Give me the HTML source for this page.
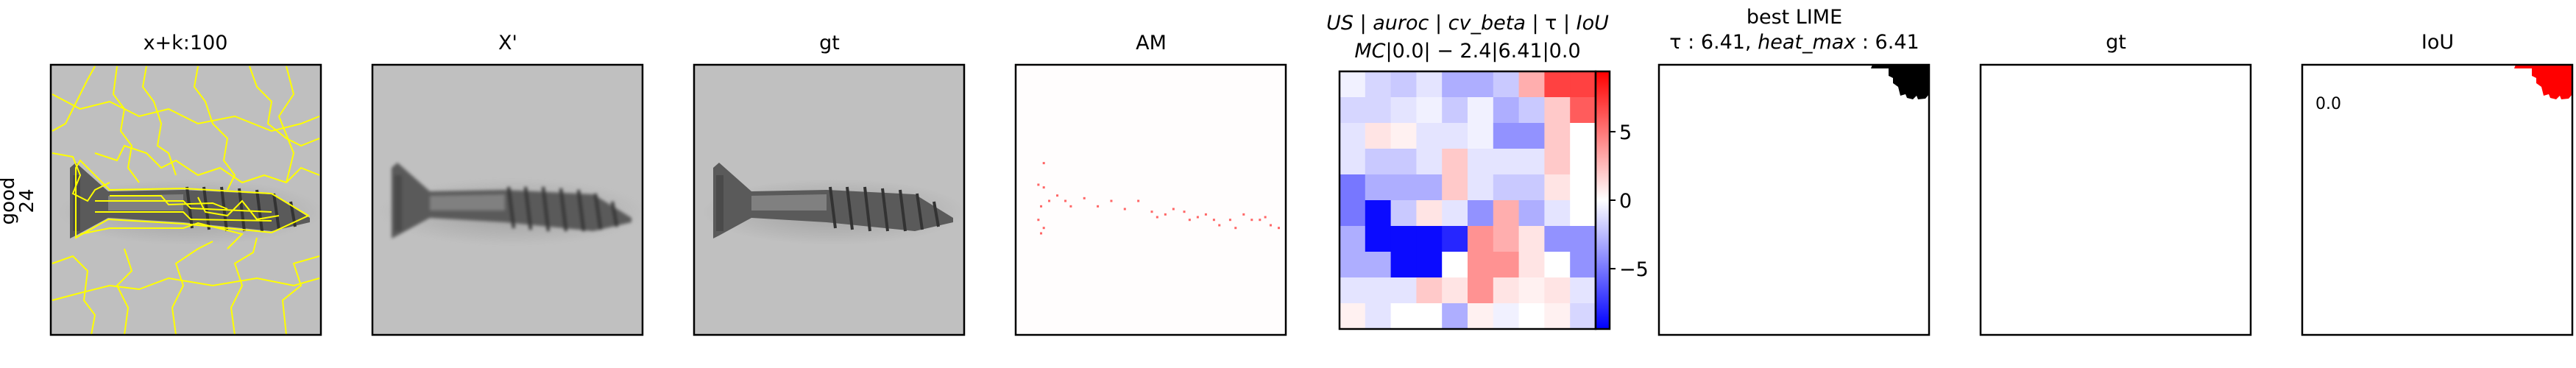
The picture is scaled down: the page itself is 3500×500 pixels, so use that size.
<!DOCTYPE html>
<html><head><meta charset="utf-8">
<style>
html,body{margin:0;padding:0;background:#fff;}
body{width:3500px;height:500px;overflow:hidden;position:relative;font-family:"DejaVu Sans","Liberation Sans",sans-serif;}
svg{position:absolute;left:0;top:0;}
</style></head>
<body>
<svg width="3500" height="500" viewBox="0 0 3500 500" font-family="DejaVu Sans, Liberation Sans, sans-serif">
<defs>
  <linearGradient id="bwr" x1="0" y1="1" x2="0" y2="0">
    <stop offset="0" stop-color="#0000ff"/><stop offset="0.5" stop-color="#ffffff"/><stop offset="1" stop-color="#ff0000"/>
  </linearGradient>
  <radialGradient id="shadow" cx="0.5" cy="0.5" r="0.5">
    <stop offset="0" stop-color="#888" stop-opacity="0.6"/><stop offset="1" stop-color="#888" stop-opacity="0"/>
  </radialGradient>
  <g id="screw">
    <ellipse cx="190" cy="200" rx="180" ry="45" fill="url(#shadow)"/>
    <path d="M26,140 L34,133 L78,172 L180,170 L300,176 L352,208 L352,214 L300,226 L180,214 L78,208 L34,232 L26,236 Z" fill="#5a5a5a"/>
    <path d="M78,178 L180,176 L180,198 L78,198 Z" fill="#808080"/>
    <path d="M30,150 L40,150 L40,226 L30,226 Z" fill="#4a4a4a"/>
    <g stroke="#333" stroke-width="4">
      <line x1="185" y1="166" x2="192" y2="222"/><line x1="208" y1="166" x2="215" y2="224"/>
      <line x1="232" y1="166" x2="239" y2="226"/><line x1="256" y1="168" x2="263" y2="226"/>
      <line x1="280" y1="170" x2="287" y2="226"/><line x1="303" y1="175" x2="310" y2="224"/>
      <line x1="326" y1="186" x2="332" y2="220"/>
    </g>
  </g>
</defs>

<text transform="translate(19,273) rotate(-90)" text-anchor="middle" font-size="26">good</text>
<text transform="translate(45,273) rotate(-90)" text-anchor="middle" font-size="26">24</text>

<g transform="translate(69,88)">
  <rect width="367" height="367" fill="#bfbfbf"/>
  <use href="#screw"/>
  <g fill="none" stroke="#ffff00" stroke-width="2">
    <path d="M2,90 L20,80 L30,60 L40,40 L50,20 L60,2"/>
    <path d="M90,2 L85,40 L100,60 L95,90 L110,110 L105,140 L120,160"/>
    <path d="M130,2 L125,30 L140,50 L150,80 L145,110 L160,120 L170,150"/>
    <path d="M200,2 L195,30 L210,50 L220,80 L240,100 L235,130 L250,150 L240,170"/>
    <path d="M270,2 L280,30 L300,50 L295,80 L320,100 L340,110 L365,100"/>
    <path d="M2,120 L30,125 L40,150 L30,175 L50,185 L60,170 L80,160"/>
    <path d="M60,120 L90,130 L100,110 L130,120 L150,140 L170,130 L200,150 L230,140 L260,160 L290,150 L320,160 L340,140 L365,150"/>
    <path d="M34,140 L40,130 L80,170 L180,168 L300,175 L350,205 L300,228 L180,216 L78,210 L34,235 Z"/>
    <path d="M60,185 L180,185 L190,195 L300,200"/>
    <path d="M60,200 L180,200 L190,210 L300,212"/>
    <path d="M80,178 L150,178 L160,190 L220,188 L240,196"/>
    <path d="M200,180 L210,200 L240,205 L260,185 L280,210 L310,205"/>
    <path d="M40,230 L80,222 L180,222 L200,215 L260,230 L240,250"/>
    <path d="M2,270 L30,260 L50,280 L45,320 L60,340 L55,367"/>
    <path d="M100,367 L105,330 L90,300 L110,280 L100,250"/>
    <path d="M170,367 L165,330 L180,300 L170,270 L200,250 L220,240"/>
    <path d="M250,367 L245,330 L260,300 L250,270 L275,255 L280,235"/>
    <path d="M320,367 L315,320 L340,300 L330,270 L365,260"/>
    <path d="M2,320 L40,310 L80,300 L120,305 L160,290 L220,300 L280,290 L330,300 L365,290"/>
    <path d="M2,40 L40,60 L80,50 L120,70 L160,60 L200,80 L250,70 L300,90 L340,80 L365,70"/>
    <path d="M320,2 L330,40 L310,70 L330,120 L320,160"/>
  </g>
  <rect width="367" height="367" fill="none" stroke="#000" stroke-width="2.5"/>
</g>
<text x="252" y="67" text-anchor="middle" font-size="27">x+k:100</text>

<g transform="translate(506,88)">
  <rect width="367" height="367" fill="#c0c0c0"/>
  <g style="filter:blur(2px)"><use href="#screw"/></g>
  <rect width="367" height="367" fill="none" stroke="#000" stroke-width="2.5"/>
</g>
<text x="690" y="67" text-anchor="middle" font-size="27">X'</text>

<g transform="translate(943,88)">
  <rect width="367" height="367" fill="#c0c0c0"/>
  <use href="#screw"/>
  <rect width="367" height="367" fill="none" stroke="#000" stroke-width="2.5"/>
</g>
<text x="1127" y="67" text-anchor="middle" font-size="27">gt</text>

<g transform="translate(1380,88)">
  <rect width="367" height="367" fill="#fffdfd"/>
  <g fill="#ff0000" id="am-dots"></g>
  <rect width="367" height="367" fill="none" stroke="#000" stroke-width="2.5"/>
</g>
<text x="1564" y="67" text-anchor="middle" font-size="27">AM</text>

<text x="1994" y="40" text-anchor="middle" font-size="27"><tspan font-style="italic">US</tspan> | <tspan font-style="italic">auroc</tspan> | <tspan font-style="italic">cv_beta</tspan> | τ | <tspan font-style="italic">IoU</tspan></text>
<text x="1994" y="78" text-anchor="middle" font-size="27"><tspan font-style="italic">MC</tspan>|0.0| − 2.4|6.41|0.0</text>
<g id="heatmap"></g>
<rect x="1820" y="97" width="348" height="350" fill="none" stroke="#000" stroke-width="2.5"/>
<rect x="2168" y="97" width="19" height="350" fill="url(#bwr)" stroke="#000" stroke-width="2.5"/>
<g id="cbticks"></g>

<text x="2438" y="32" text-anchor="middle" font-size="27">best LIME</text>
<text x="2438" y="66" text-anchor="middle" font-size="27">τ : 6.41, <tspan font-style="italic">heat_max</tspan> : 6.41</text>
<g transform="translate(2254,88)">
  <rect width="367" height="367" fill="#fff"/>
  <path d="M290,0 L367,0 L367,40 L362,46 L352,47 L350,42 L345,47 L337,45 L335,40 L328,42 L325,30 L318,25 L318,18 L312,15 L312,5 L288,5 Z" fill="#000"/>
  <rect width="367" height="367" fill="none" stroke="#000" stroke-width="2.5"/>
</g>

<text x="2875" y="66" text-anchor="middle" font-size="27">gt</text>
<g transform="translate(2691,88)">
  <rect width="367" height="367" fill="#fff" stroke="#000" stroke-width="2.5"/>
</g>

<text x="3312" y="66" text-anchor="middle" font-size="27">IoU</text>
<g transform="translate(3128,88)">
  <rect width="367" height="367" fill="#fff"/>
  <path d="M290,0 L367,0 L367,40 L362,46 L352,47 L350,42 L345,47 L337,45 L335,40 L328,42 L325,30 L318,25 L318,18 L312,15 L312,5 L288,5 Z" fill="#ff0000"/>
  <text x="18" y="60" font-size="22">0.0</text>
  <rect width="367" height="367" fill="none" stroke="#000" stroke-width="2.5"/>
</g>
</svg>

<script>
const heatRows = [
 [-0.5,-1.5,-2,-1,-3,-3,-2,3,7,7],
 [-1.5,-1.5,-1,-0.5,-2,-0.5,-3,-2,2,6],
 [-1,1,0.5,-1,-1,-0.5,-4,-4,2,0],
 [-1,-2,-2,-1,2,-1,-1,-1,2,0],
 [-5,-3,-3,-3,2,-1,-2,-2,1,0],
 [-5,-9,-2,1,-1,-4,3,-3,-1,0],
 [-3,-9,-9,-9,-8,4,3,1,-4,-4],
 [-3,-3,-9,-9,0,4,4,1,0,-4],
 [-1,-1,-1,2,1,4,1,0.5,1,-1],
 [0.5,-1,0,0,-3,0.5,-0.5,0,0.5,-1.5]
];
const cbRange = [-9.4, 9.4];
const cbTicks = [-5, 0, 5];
const cbTickLabels = ["−5", "0", "5"];
const amPoints = [[0.1,0.36],[0.08,0.44],[0.1,0.45],[0.09,0.52],[0.12,0.5],[0.08,0.57],[0.1,0.6],[0.09,0.62],[0.15,0.48],[0.18,0.5],[0.2,0.52],[0.25,0.49],[0.3,0.52],[0.35,0.5],[0.4,0.53],[0.45,0.5],[0.5,0.54],[0.52,0.56],[0.55,0.55],[0.58,0.53],[0.62,0.54],[0.64,0.57],[0.67,0.56],[0.7,0.55],[0.73,0.57],[0.75,0.59],[0.79,0.57],[0.81,0.6],[0.84,0.55],[0.87,0.57],[0.9,0.57],[0.92,0.56],[0.94,0.59],[0.97,0.6]];

const NS = "http://www.w3.org/2000/svg";
const hx = 1820, hy = 97, hw = 348, hh = 350;
function yScale(v){ return hy + hh * (cbRange[1] - v) / (cbRange[1] - cbRange[0]); }
function bwr(v){
  let t = Math.max(-1, Math.min(1, v / cbRange[1]));
  let r, g, b;
  if (t < 0){ r = g = Math.round(255 * (1 + t)); b = 255; }
  else { r = 255; g = b = Math.round(255 * (1 - t)); }
  return `rgb(${r},${g},${b})`;
}
const hm = document.getElementById('heatmap');
const nr = heatRows.length, nc = heatRows[0].length;
heatRows.forEach((row, i) => row.forEach((v, j) => {
  const r = document.createElementNS(NS, 'rect');
  r.setAttribute('x', hx + j * hw / nc);
  r.setAttribute('y', hy + i * hh / nr);
  r.setAttribute('width', hw / nc + 0.5);
  r.setAttribute('height', hh / nr + 0.5);
  r.setAttribute('fill', bwr(v));
  
  
  hm.appendChild(r);
}));
const cbt = document.getElementById('cbticks');
cbTicks.forEach((t, k) => {
  const y = yScale(t);
  const l = document.createElementNS(NS, 'line');
  l.setAttribute('x1', 2187); l.setAttribute('x2', 2195);
  l.setAttribute('y1', y); l.setAttribute('y2', y);
  l.setAttribute('stroke', '#000'); l.setAttribute('stroke-width', '2');
  
  
  cbt.appendChild(l);
  const tx = document.createElementNS(NS, 'text');
  tx.setAttribute('x', 2200); tx.setAttribute('y', y + 10);
  tx.setAttribute('font-size', '27');
  tx.textContent = cbTickLabels[k];
  
  
  cbt.appendChild(tx);
});
const am = document.getElementById('am-dots');
amPoints.forEach(p => {
  const c = document.createElementNS(NS, 'rect');
  c.setAttribute('x', p[0] * 367); c.setAttribute('y', p[1] * 367);
  c.setAttribute('width', 3); c.setAttribute('height', 3);
  c.setAttribute('opacity', '0.6');
  
  
  am.appendChild(c);
});
</script>
</body></html>
